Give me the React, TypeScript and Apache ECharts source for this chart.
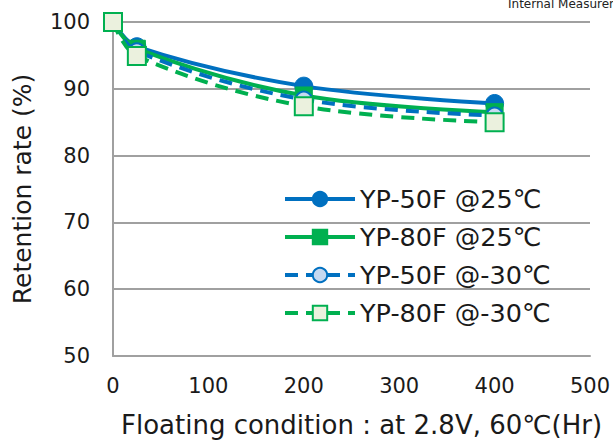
import React, { useEffect, useRef } from "react";
import * as echarts from "echarts";

const hours = [0, 25, 200, 400];
const yp50At25 = [100, 96.3, 90.4, 87.8];
const yp80At25 = [100, 96.0, 89.0, 86.5];
const yp50AtM30 = [100, 95.6, 88.4, 86.0];
const yp80AtM30 = [100, 94.9, 87.4, 85.0];
const seriesNames = ["YP-50F @25℃", "YP-80F @25℃", "YP-50F @-30℃", "YP-80F @-30℃"];
const xTicks = [0, 100, 200, 300, 400, 500];
const yTicks = [50, 60, 70, 80, 90, 100];

const BLUE = "#0070C0";
const GREEN = "#00B050";
const FONT = "DejaVu Sans";

function pairs(ys: number[]) {
  return hours.map((h, i) => [h, ys[i]]);
}

export default function App() {
  const ref = useRef<HTMLDivElement>(null);
  useEffect(() => {
    if (!ref.current) return;
    const chart = echarts.init(ref.current, undefined, { renderer: "svg" });
    const dash = [13, 8];
    chart.setOption({
      animation: false,
      backgroundColor: "#ffffff",
      textStyle: { fontFamily: FONT },
      title: {
        text: "Internal Measurement",
        left: 503,
        top: -7,
        textStyle: { fontSize: 12, fontWeight: "normal", color: "#222", fontFamily: FONT },
      },
      grid: {
        left: 113,
        right: 23,
        top: 22,
        bottom: 85,
        containLabel: false,
        outerBoundsMode: "none",
      },
      xAxis: {
        type: "value",
        min: xTicks[0],
        max: xTicks[xTicks.length - 1],
        interval: 100,
        name: "Floating condition : at 2.8V, 60℃(Hr)",
        nameLocation: "middle",
        nameGap: 56,
        nameTextStyle: { fontSize: 26, color: "#1a1a1a", fontFamily: FONT, padding: [0, 0, 0, 20] },
        axisLine: { show: true, lineStyle: { color: "#a0a0a0", width: 2 } },
        axisTick: { show: false },
        splitLine: { show: false },
        axisLabel: { fontSize: 21, color: "#1a1a1a", margin: 19, fontFamily: FONT },
      },
      yAxis: {
        type: "value",
        min: yTicks[0],
        max: yTicks[yTicks.length - 1],
        interval: 10,
        name: "Retention rate (%)",
        nameLocation: "middle",
        nameGap: 78,
        nameRotate: 90,
        nameTextStyle: { fontSize: 25, color: "#1a1a1a", fontFamily: FONT },
        axisLine: { show: true, lineStyle: { color: "#a0a0a0", width: 2 } },
        axisTick: { show: false },
        splitLine: { show: true, lineStyle: { color: "#a0a0a0", width: 2 } },
        axisLabel: { fontSize: 21, color: "#1a1a1a", margin: 23, fontFamily: FONT },
      },
      legend: {
        orient: "vertical",
        left: 278,
        top: 181,
        itemWidth: 70,
        itemHeight: 18,
        itemGap: 12,
        lineStyle: { width: 4 },
        textStyle: { fontSize: 25.5, color: "#1a1a1a", fontFamily: FONT },
        data: seriesNames,
      },
      series: [
        {
          name: seriesNames[0],
          type: "line",
          data: pairs(yp50At25),
          smooth: 0.35,
          symbol: "circle",
          symbolSize: 18,
          lineStyle: { color: BLUE, width: 4 },
          itemStyle: { color: BLUE, borderColor: BLUE, borderWidth: 1 },
          z: 2,
        },
        {
          name: seriesNames[1],
          type: "line",
          data: pairs(yp80At25),
          smooth: 0.35,
          symbol: "rect",
          symbolSize: 17,
          lineStyle: { color: GREEN, width: 4 },
          itemStyle: { color: GREEN, borderColor: GREEN, borderWidth: 1 },
          z: 3,
        },
        {
          name: seriesNames[2],
          type: "line",
          data: pairs(yp50AtM30),
          smooth: 0.35,
          symbol: "circle",
          symbolSize: 16,
          lineStyle: { color: BLUE, width: 4, type: dash },
          itemStyle: { color: "#C6D9F1", borderColor: BLUE, borderWidth: 2 },
          z: 4,
        },
        {
          name: seriesNames[3],
          type: "line",
          data: pairs(yp80AtM30),
          smooth: 0.35,
          symbol: "rect",
          symbolSize: 18,
          lineStyle: { color: GREEN, width: 4, type: dash },
          itemStyle: { color: "#EBF1DE", borderColor: GREEN, borderWidth: 2 },
          z: 5,
        },
      ],
    });
    return () => chart.dispose();
  }, []);
  return (
    <div
      ref={ref}
      style={{ position: "fixed", left: 0, top: 0, width: 613, height: 441 }}
    />
  );
}
